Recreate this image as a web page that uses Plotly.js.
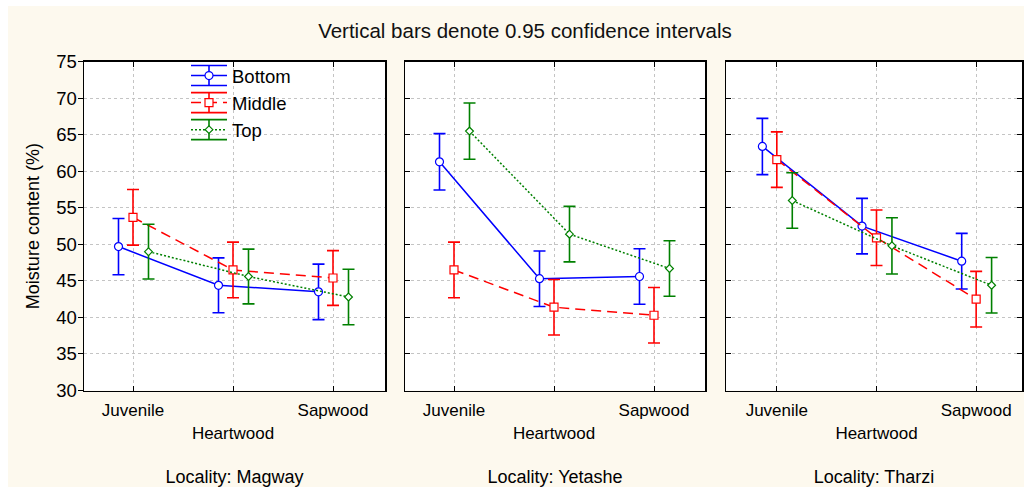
<!DOCTYPE html>
<html>
<head>
<meta charset="utf-8">
<script src="https://cdn.plot.ly/plotly-3.0.1.min.js"></script>
<style>
  html, body { margin: 0; padding: 0; background: #ffffff; width: 1024px; height: 487px; overflow: hidden; }
  #chart { position: absolute; left: 8px; top: 6px; width: 1016px; height: 481px; }
</style>
</head>
<body>
<div id="chart"></div>
<script>
// ---- data ----
const categories = ["Juvenile", "Heartwood", "Sapwood"];
const tickLabels = ["Juvenile", "<br>Heartwood", "Sapwood"];
const localities = ["Magway", "Yetashe", "Tharzi"];
const seriesNames = ["Bottom", "Middle", "Top"];

const bottomMagway  = [49.7, 44.4, 43.5];
const middleMagway  = [53.7, 46.5, 45.4];
const topMagway     = [49.0, 45.6, 42.8];
const bottomYetashe = [61.3, 45.3, 45.6];
const middleYetashe = [46.5, 41.4, 40.3];
const topYetashe    = [65.5, 51.4, 46.7];
const bottomTharzi  = [63.4, 52.5, 47.7];
const middleTharzi  = [61.6, 50.9, 42.5];
const topTharzi     = [56.0, 49.8, 44.4];

// half-widths of the 0.95 confidence intervals
const ciBottomMagway  = [3.85, 3.75, 3.8];
const ciMiddleMagway  = [3.8, 3.8, 3.75];
const ciTopMagway     = [3.75, 3.75, 3.8];
const ciBottomYetashe = [3.85, 3.8, 3.8];
const ciMiddleYetashe = [3.8, 3.8, 3.8];
const ciTopYetashe    = [3.85, 3.8, 3.8];
const ciBottomTharzi  = [3.85, 3.8, 3.8];
const ciMiddleTharzi  = [3.8, 3.8, 3.8];
const ciTopTharzi     = [3.8, 3.85, 3.8];

const yTickVals = [30, 35, 40, 45, 50, 55, 60, 65, 70, 75];

// ---- styling ----
const panels = [
  { values: [bottomMagway, middleMagway, topMagway],   ci: [ciBottomMagway, ciMiddleMagway, ciTopMagway] },
  { values: [bottomYetashe, middleYetashe, topYetashe], ci: [ciBottomYetashe, ciMiddleYetashe, ciTopYetashe] },
  { values: [bottomTharzi, middleTharzi, topTharzi],   ci: [ciBottomTharzi, ciMiddleTharzi, ciTopTharzi] }
];
const styles = [
  { color: "#0000ff", dash: "solid",     symbol: "circle",  size: 8, offset: -0.145 },
  { color: "#ff0000", dash: "10px,6px",  symbol: "square",  size: 8, offset: 0.0 },
  { color: "#008000", dash: "2px,2px",   symbol: "diamond", size: 6, offset: 0.155 }
];
const FONT = "Liberation Sans, Arial, sans-serif";
const W = 1016, H = 481;
const xDomains = [[76 / W, 377 / W], [397 / W, 697 / W], [718 / W, 1014 / W]];
const xRanges = [[-0.49, 2.52], [-0.49, 2.51], [-0.51, 2.46]];
const yDomain = [(H - 384.5) / H, (H - 55.7) / H];

const traces = [];
panels.forEach((p, pi) => {
  const sfx = pi === 0 ? "" : String(pi + 1);
  p.values.forEach((vals, si) => {
    const st = styles[si];
    traces.push({
      type: "scatter",
      mode: "lines+markers",
      name: seriesNames[si],
      legendgroup: seriesNames[si],
      showlegend: pi === 0,
      x: categories.map((c, i) => i + st.offset),
      y: vals,
      xaxis: "x" + sfx,
      yaxis: "y" + sfx,
      line: { color: st.color, width: 1.5, dash: st.dash },
      marker: { symbol: st.symbol, size: st.size, color: "#ffffff", line: { color: st.color, width: 1.2 } },
      error_y: { type: "data", array: p.ci[si], visible: true, color: st.color, thickness: 1.6, width: 6 },
      cliponaxis: false,
      hoverinfo: "x+y+name"
    });
  });
});

const layout = {
  width: W, height: H,
  margin: { l: 0, r: 0, t: 0, b: 0, pad: 0 },
  paper_bgcolor: "#fdf9ee",
  plot_bgcolor: "#ffffff",
  font: { family: FONT, size: 17, color: "#000000" },
  title: { text: "Vertical bars denote 0.95 confidence intervals", font: { family: FONT, size: 20.5, color: "#111111" },
           x: 517 / W, xanchor: "center", y: 1 - 25 / H, yanchor: "middle" },
  showlegend: true,
  legend: { x: 178 / W, xanchor: "left", y: 1 - 51 / H, yanchor: "top", bgcolor: "rgba(0,0,0,0)",
            borderwidth: 0, font: { family: FONT, size: 18.5, color: "#000000" }, itemwidth: 36, tracegroupgap: 0 },
  shapes: []
};

for (let pi = 0; pi < 3; pi++) {
  const sfx = pi === 0 ? "" : String(pi + 1);
  layout["xaxis" + sfx] = {
    domain: xDomains[pi], range: xRanges[pi], anchor: "y" + sfx,
    tickmode: "array", tickvals: [0, 1, 2], ticktext: tickLabels,
    ticks: "inside", ticklen: 5, tickwidth: 1, tickcolor: "#000000", ticklabelstandoff: 4,
    showline: true, linecolor: "#000000", linewidth: 1.5, mirror: "ticks",
    showgrid: true, gridcolor: "#c4c4c4", griddash: "dot", gridwidth: 1,
    zeroline: false, fixedrange: true,
    tickfont: { family: FONT, size: 17, color: "#000000" },
    title: { text: "Locality: " + localities[pi], font: { family: FONT, size: 18, color: "#000000" }, standoff: 30 }
  };
  layout["yaxis" + sfx] = {
    domain: yDomain, range: [30, 75], anchor: "x" + sfx,
    tickmode: "array", tickvals: yTickVals,
    showticklabels: pi === 0,
    ticks: pi === 0 ? "outside" : "inside", ticklen: 5, tickwidth: 1, tickcolor: "#000000",
    ticklabelstandoff: pi === 0 ? -3 : 4,
    showline: true, linecolor: "#000000", linewidth: 1.5, mirror: pi === 0 ? true : "ticks",
    showgrid: true, gridcolor: "#c4c4c4", griddash: "dot", gridwidth: 1,
    zeroline: false, fixedrange: true,
    tickfont: { family: FONT, size: 18.5, color: "#000000" },
    title: pi === 0 ? { text: "Moisture content (%)", font: { family: FONT, size: 18, color: "#000000" }, standoff: 12 } : { text: "" }
  };
}
// right-hand inside ticks of the first panel
layout.yaxis4 = {
  overlaying: "y", side: "right", anchor: "x", range: [30, 75],
  tickmode: "array", tickvals: yTickVals, showticklabels: false,
  ticks: "inside", ticklen: 5, tickwidth: 1, tickcolor: "#000000",
  showline: false, showgrid: false, zeroline: false, fixedrange: true
};

Plotly.newPlot("chart", traces, layout, { displayModeBar: false, staticPlot: true }).then(function (gd) {
  // add confidence-interval style caps to the legend symbols, aligned to where Plotly drew them
  const box = gd.getBoundingClientRect();
  const shapes = [];
  gd.querySelectorAll(".legend .traces").forEach(function (item) {
    const label = item.querySelector(".legendtext");
    const si = label ? seriesNames.indexOf(label.textContent.trim()) : -1;
    const pt = item.querySelector(".legendpoints path.scatterpts");
    if (si < 0 || !pt) return;
    const r = pt.getBoundingClientRect();
    const cx = (r.left + r.right) / 2 - box.left;
    const cy = (r.top + r.bottom) / 2 - box.top;
    const col = styles[si].color;
    const fx = function (px) { return px / W; };
    const fy = function (py) { return 1 - py / H; };
    [cy - 10, cy + 10].forEach(function (yy) {
      shapes.push({ type: "line", xref: "paper", yref: "paper", x0: fx(cx - 18), x1: fx(cx + 18), y0: fy(yy), y1: fy(yy),
                    line: { color: col, width: 1.6 }, layer: "above" });
    });
    shapes.push({ type: "line", xref: "paper", yref: "paper", x0: fx(cx), x1: fx(cx), y0: fy(cy - 10), y1: fy(cy + 10),
                  line: { color: col, width: 1.6 }, layer: "above" });
  });
  return Plotly.relayout(gd, { shapes: shapes });
});
</script>
</body>
</html>
